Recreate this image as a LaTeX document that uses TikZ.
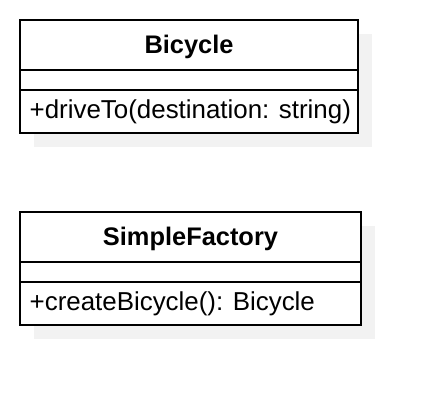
\documentclass[tikz,border=0pt]{standalone}
\usepackage{fontspec}
\setmainfont{Liberation Sans}
\definecolor{shadowgray}{HTML}{F2F2F2}
\begin{document}
\begin{tikzpicture}[x=1pt,y=-1pt,
  box/.style={draw=black,line width=2pt,fill=white},
  sep/.style={line width=2pt},
  title/.style={font=\fontsize{25.4}{30}\selectfont\bfseries,inner sep=0pt,anchor=base},
  member/.style={font=\fontsize{25.9}{30}\selectfont,inner sep=0pt,anchor=base west}]
\useasboundingbox (0,0) rectangle (440,406);
% Bicycle
\fill[shadowgray] (34,34) rectangle (372,147);
\draw[box] (20,20) rectangle (358,133);
\draw[sep] (20,70) -- (358,70);
\draw[sep] (20,90) -- (358,90);
\node[title] (bicycle) at (189,54) {Bicycle};
\node[member] (driveto) at (29.5,119) {+driveTo(destination: string)};
% SimpleFactory
\fill[shadowgray] (34,226) rectangle (375,339);
\draw[box] (20,212) rectangle (361,325);
\draw[sep] (20,262) -- (361,262);
\draw[sep] (20,282) -- (361,282);
\node[title] (factory) at (190.5,246) {SimpleFactory};
\node[member] (create) at (29.5,311) {+createBicycle(): Bicycle};
\end{tikzpicture}
\end{document}
